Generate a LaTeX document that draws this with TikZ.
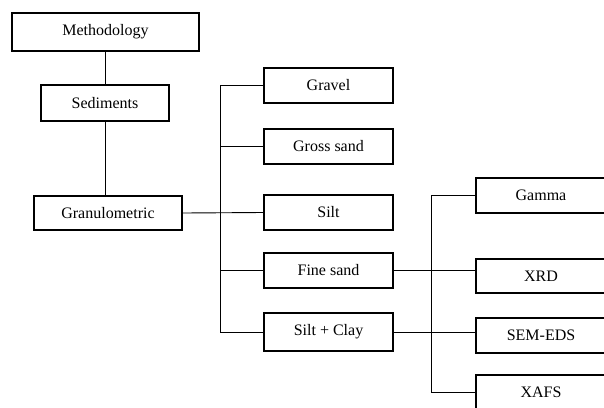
\documentclass[tikz,border=0pt]{standalone}
\usepackage{fontspec}
\setmainfont{Liberation Serif}
\begin{document}
\begin{tikzpicture}[x=1pt,y=-1pt,
  box/.style={draw,line width=1.8pt,minimum width=#1,minimum height=35pt,inner sep=0pt,font=\fontsize{16}{18}\selectfont},
  box/.default=129pt,
  conn/.style={line width=0.9pt}]
\useasboundingbox (0,0) rectangle (604,407);
\node[box=187pt,minimum height=38pt] (meth) at (105.5,32) {Methodology};
\node[box=128pt,minimum height=36pt] (sed) at (105,103) {Sediments};
\node[box=148pt,minimum height=34pt] (gran) at (108,213) {Granulometric};
\node[box] (gravel) at (328.5,85.5) {Gravel};
\node[box] (gross) at (328.5,146.5) {Gross sand};
\node[box] (silt) at (328.5,212.5) {Silt};
\node[box] (fine) at (328.5,270.5) {Fine sand};
\node[box,minimum height=38pt] (sc) at (328.5,332) {Silt + Clay};
\node[box=130pt] (gamma) at (541,195.5) {Gamma};
\node[box=130pt,minimum height=34pt] (xrd) at (541,276) {XRD};
\node[box=130pt] (sem) at (541,335.5) {SEM-EDS};
\node[box=130pt] (xafs) at (541,392.5) {XAFS};
\coordinate (t1) at (220,0);
\coordinate (t2) at (431,0);
\draw[conn] (meth.south -| sed.north) -- (sed.north);
\draw[conn] (sed.south) -- (sed.south |- gran.north);
\draw[conn] (gran.east) -- (silt.west);
\draw[conn] (t1 |- gravel.west) -- (t1 |- sc.west);
\draw[conn] (t1 |- gravel.west) -- (gravel.west);
\draw[conn] (t1 |- gross.west) -- (gross.west);
\draw[conn] (t1 |- fine.west) -- (fine.west);
\draw[conn] (t1 |- sc.west) -- (sc.west);
\draw[conn] (t2 |- gamma.west) -- (t2 |- xafs.west);
\draw[conn] (t2 |- gamma.west) -- (gamma.west);
\draw[conn] (fine.east) -- (fine.east -| xrd.west);
\draw[conn] (sc.east) -- (sc.east -| sem.west);
\draw[conn] (t2 |- xafs.west) -- (xafs.west);
\end{tikzpicture}
\end{document}
